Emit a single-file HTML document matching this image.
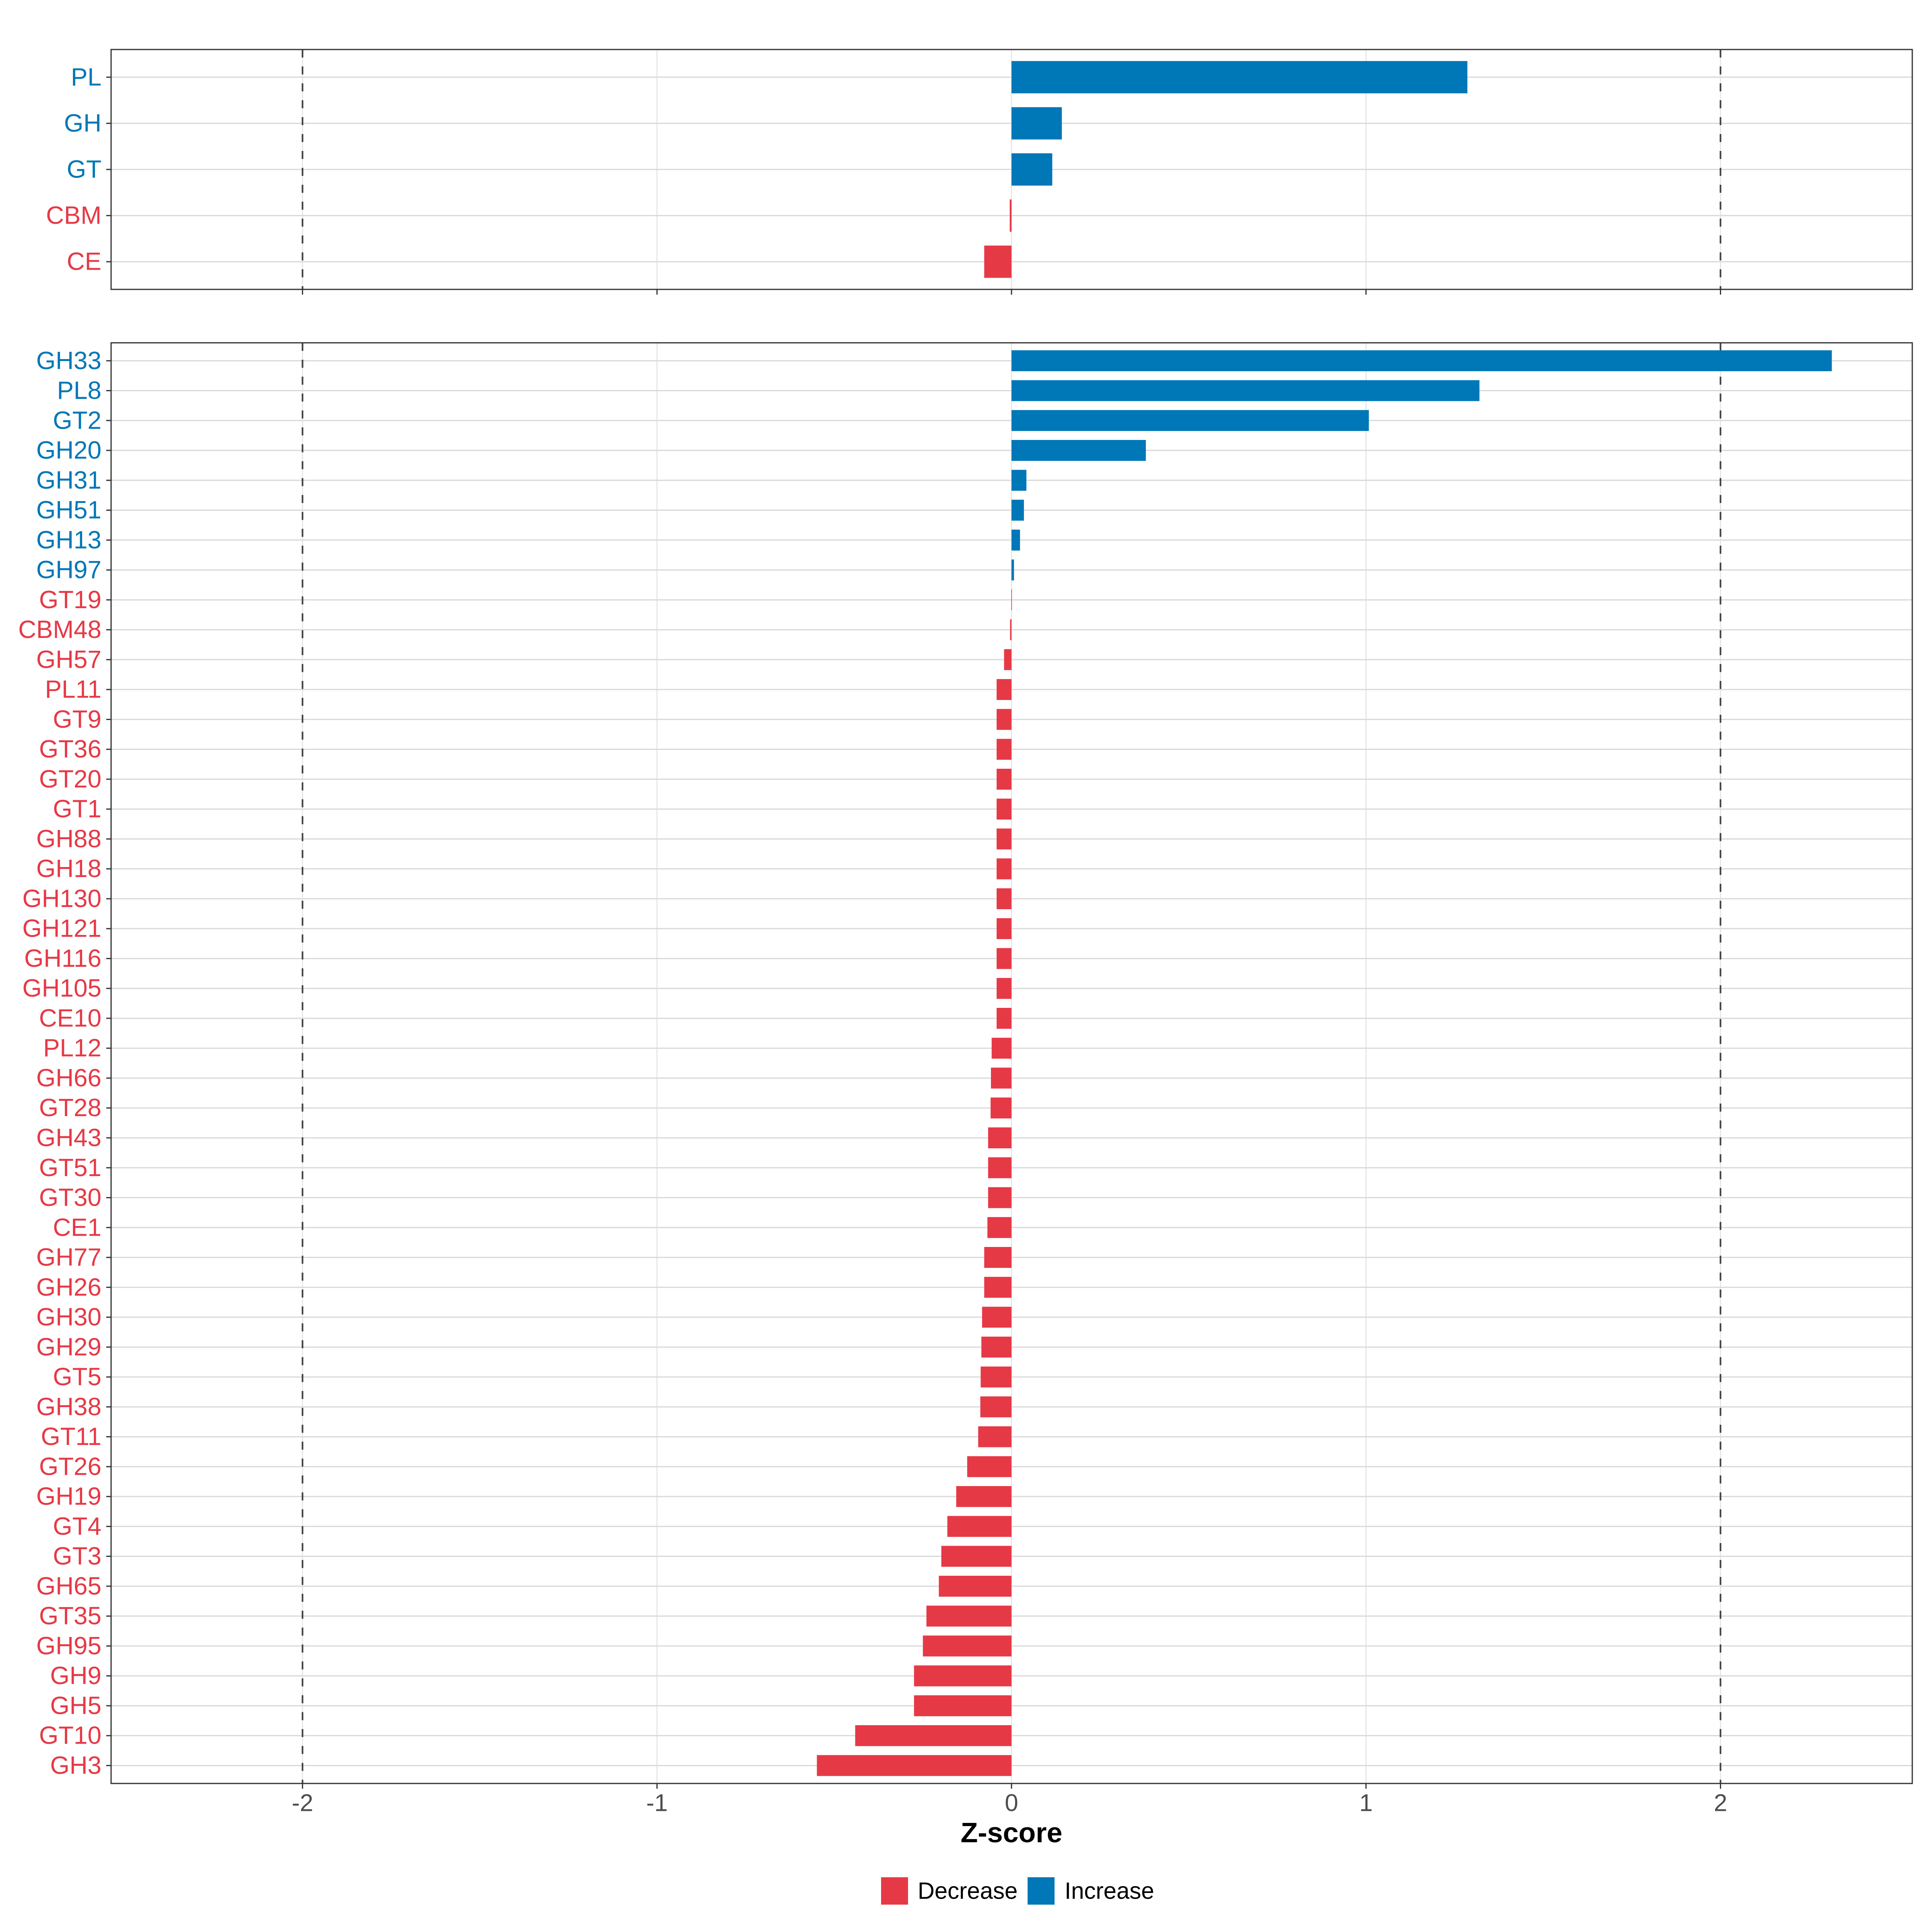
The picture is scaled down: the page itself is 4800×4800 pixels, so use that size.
<!DOCTYPE html>
<html><head><meta charset="utf-8"><style>
html,body{margin:0;padding:0;background:#fff;}
svg{display:block;font-family:"Liberation Sans",Arial,sans-serif;}
</style></head><body>
<svg id="chart" xmlns="http://www.w3.org/2000/svg" width="4800" height="4800" viewBox="0 0 4800 4800">
<rect x="0" y="0" width="4800" height="4800" fill="#fff"/>
<g id="top"></g>
<g id="bottom"></g>
<g id="xaxis"></g>
<text x="2513" y="4553" text-anchor="middle" dominant-baseline="central" font-size="70" font-weight="bold" fill="#000">Z-score</text>
<g>
<rect x="2189" y="4664" width="67" height="68" fill="#E63946"/>
<text x="2280" y="4698" dominant-baseline="central" font-size="58" fill="#000">Decrease</text>
<rect x="2553" y="4664" width="67" height="68" fill="#0077B6"/>
<text x="2645" y="4698" dominant-baseline="central" font-size="58" fill="#000">Increase</text>
</g>
</svg>
<script>
const topCategories = ["PL","GH","GT","CBM","CE"];
const topValues = [1.286,0.142,0.115,-0.005,-0.077];
const bottomCategories = ["GH33","PL8","GT2","GH20","GH31","GH51","GH13","GH97","GT19","CBM48","GH57","PL11","GT9","GT36","GT20","GT1","GH88","GH18","GH130","GH121","GH116","GH105","CE10","PL12","GH66","GT28","GH43","GT51","GT30","CE1","GH77","GH26","GH30","GH29","GT5","GH38","GT11","GT26","GH19","GT4","GT3","GH65","GT35","GH95","GH9","GH5","GT10","GH3"];
const bottomValues = [2.314,1.32,1.008,0.379,0.042,0.035,0.024,0.007,-0.0005,-0.004,-0.021,-0.042,-0.042,-0.042,-0.042,-0.042,-0.042,-0.042,-0.042,-0.042,-0.042,-0.042,-0.042,-0.056,-0.058,-0.059,-0.066,-0.066,-0.066,-0.068,-0.077,-0.077,-0.083,-0.085,-0.087,-0.088,-0.094,-0.125,-0.156,-0.181,-0.198,-0.205,-0.24,-0.25,-0.275,-0.275,-0.441,-0.549];
const xTicks = [-2,-1,0,1,2];
const xTickLabels = ["-2","-1","0","1","2"];
const refLines = [-2,2];

const NS="http://www.w3.org/2000/svg";
const PL=276, PR=4751;
const xMin=-2.540, xMax=2.541;
function xs(v){return PL+(v-xMin)/(xMax-xMin)*(PR-PL);}
const BLUE="#0077B6", RED="#E63946";
function mk(parent,tag,attrs){const e=document.createElementNS(NS,tag);for(const k in attrs)e.setAttribute(k,attrs[k]);parent.appendChild(e);return e;}

function panel(g,cats,vals,top,bottom,prefix){
  const n=cats.length;
  const step=(bottom-top)/(n-1+1.2);
  function ys(i){return top+0.6*step+i*step;}
  for(const t of xTicks){
    const l=mk(g,"line",{x1:xs(t),x2:xs(t),y1:top,y2:bottom,stroke:"#e3e3e3","stroke-width":2.5});
    
    
  }
  cats.forEach((c,i)=>{
    const l=mk(g,"line",{x1:PL,x2:PR,y1:ys(i),y2:ys(i),stroke:"#d9d9d9","stroke-width":3});
    
    
  });
  for(const r of refLines){
    const l=mk(g,"line",{x1:xs(r),x2:xs(r),y1:top,y2:bottom,stroke:"#404040","stroke-width":4,"stroke-dasharray":"20,22"});
    
    
  }
  const h=0.7*step;
  cats.forEach((c,i)=>{
    const v=vals[i];
    const x0=Math.min(xs(0),xs(v)), w=Math.max(Math.abs(xs(v)-xs(0)),v===0?0:1.5);
    const col=v>=0?BLUE:RED;
    const b=mk(g,"rect",{x:x0,y:ys(i)-h/2,width:w,height:h,fill:col});
    
    
    const tk=mk(g,"line",{x1:264,x2:PL,y1:ys(i),y2:ys(i),stroke:"#333","stroke-width":3});
    
    
    const t=mk(g,"text",{x:252,y:ys(i),"text-anchor":"end","dominant-baseline":"central","font-size":62,fill:col});
    t.textContent=c;
    
    
  });
  const border=mk(g,"rect",{x:PL,y:top,width:PR-PL,height:bottom-top,fill:"none",stroke:"#333","stroke-width":3});
  
  
}
panel(document.getElementById("top"),topCategories,topValues,123,719,"top");
panel(document.getElementById("bottom"),bottomCategories,bottomValues,851.7,4431,"bottom");

const xa=document.getElementById("xaxis");
xTicks.forEach((t,i)=>{
  for(const y0 of [719,4431]){
    const tk=mk(xa,"line",{x1:xs(t),x2:xs(t),y1:y0,y2:y0+13,stroke:"#333","stroke-width":3});
    
    
  }
  const lb=mk(xa,"text",{x:xs(t),y:4479,"text-anchor":"middle","dominant-baseline":"central","font-size":60,fill:"#4d4d4d"});
  lb.textContent=xTickLabels[i];
  
  
});
</script>
</body></html>
